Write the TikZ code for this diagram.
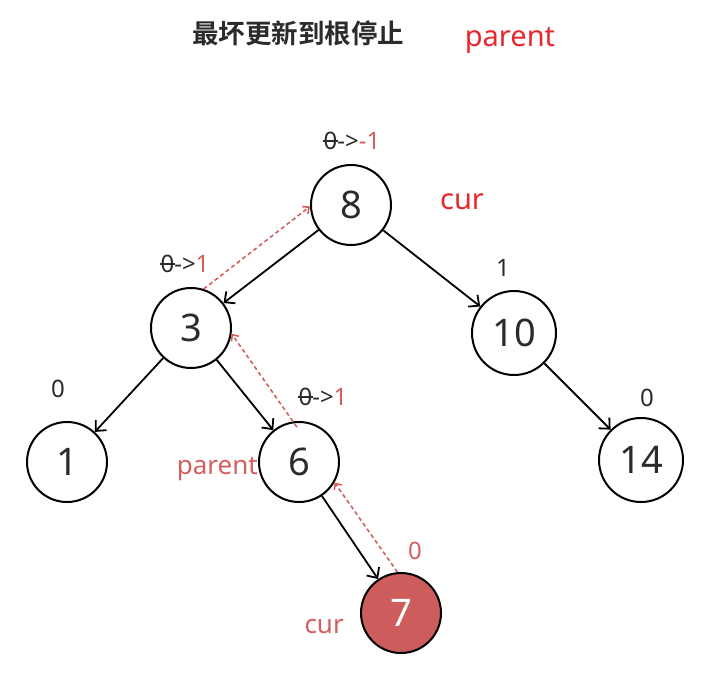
\documentclass[tikz,border=0pt]{standalone}
\usepackage{fontspec}
\setmainfont{Noto Sans}
\newfontfamily\cjkbold{Noto Sans CJK SC}[BoldFont={* Bold}]
\usetikzlibrary{positioning, arrows.meta}

\definecolor{hotred}{HTML}{E8262B}
\definecolor{softred}{HTML}{D35F5F}
\definecolor{fillred}{HTML}{CD5C5C}
\definecolor{inkgray}{HTML}{2B2B2B}

% struck-out digit for the old balance factor
\newcommand{\oldbf}[1]{\ooalign{#1\cr\hidewidth\rule[0.34em]{0.62em}{0.07em}\hidewidth\cr}}

\begin{document}
\begin{tikzpicture}[x=1pt, y=-1pt,
  % Node Styles
  tnode/.style={circle, draw, line width=2pt, minimum size=80pt, inner sep=0pt, text=inkgray, font=\fontsize{38}{40}\selectfont},
  curnode/.style={tnode, fill=fillred, text=white},
  bflabel/.style={text=inkgray, inner sep=1pt, font=\fontsize{24}{26}\selectfont},
  ptrlabel/.style={text=softred, inner sep=1pt, font=\fontsize{26}{28}\selectfont},
  % Arrow Styles
  solidarrow/.style={-{Straight Barb[length=8pt, width=15pt]}, line width=1.8pt, black},
  dashedarrow/.style={-{Straight Barb[length=5pt, width=9pt]}, dashed, dash pattern=on 4pt off 3pt, line width=1.6pt, softred}
]
\useasboundingbox (0,0) rectangle (711,685);

% Title
\node[font=\cjkbold\bfseries\fontsize{26.5}{28}\selectfont, text=inkgray] (title) at (298,33) {最坏更新到根停止};
\node[font=\fontsize{29}{31}\selectfont, text=hotred] (toplabel) at (510,40) {parent};

% Tree nodes
\node[tnode] (n8) at (351,205) {8};
\node[tnode] (n3) at (191,328) {3};
\node[tnode, minimum size=84pt] (n10) at (514,333) {10};
\node[tnode] (n1) at (67,462) {1};
\node[tnode] (n6) at (299,462) {6};
\node[tnode, minimum size=84pt] (n14) at (641,460) {14};
\node[curnode] (n7) at (401,613) {7};

% Balance factors
\node[bflabel] (bf8) at (352,141) {\oldbf{0}->\textcolor{softred}{-1}};
\node[bflabel] (bf3) at (185,264) {\oldbf{0}->\textcolor{softred}{1}};
\node[bflabel] (bf10) at (503,268) {1};
\node[bflabel] (bf1) at (58,389) {0};
\node[bflabel] (bf6) at (323,397) {\oldbf{0}->\textcolor{softred}{1}};
\node[bflabel] (bf14) at (647,398) {0};
\node[bflabel, text=softred] (bf7) at (415,551) {0};

% Pointers
\node[font=\fontsize{29}{31}\selectfont, text=hotred] (cur8) at (462,202) {cur};
\node[ptrlabel, anchor=east] (par6) at (259,469) {parent};
\node[ptrlabel, anchor=east] (cur7) at (345,627) {cur};

% Edges
\draw[solidarrow] (n8) -- (n3);
\draw[solidarrow] (n8) -- (n10);
\draw[solidarrow] (n3) -- (n1);
\draw[solidarrow] (n3) -- (n6);
\draw[solidarrow] (n10) -- (n14);
\draw[solidarrow] (n6) -- (n7);

% Update path back to the root
\draw[dashedarrow] (n7.95) -- (n6.-30);
\draw[dashedarrow] ([yshift=-6pt]n6.93) -- (n3.-8);
\draw[dashedarrow] (n3.72) -- (n8.182);
\end{tikzpicture}
\end{document}
